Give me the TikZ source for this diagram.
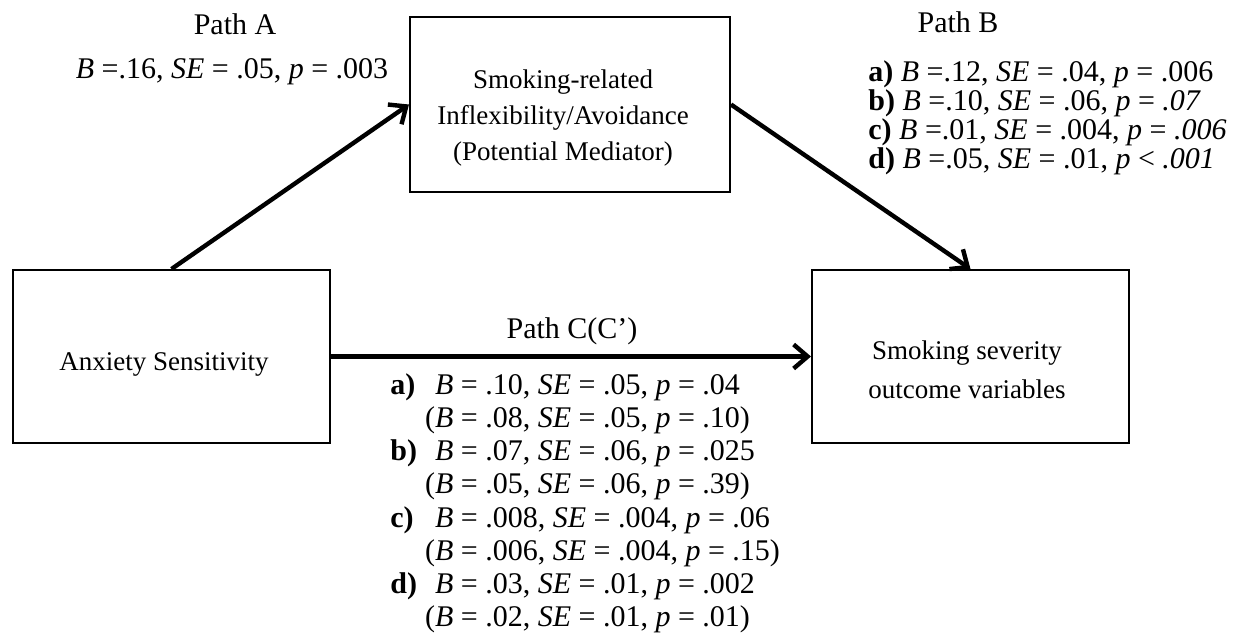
\documentclass[tikz,border=0pt]{standalone}
\usepackage{fontspec}
\setmainfont{Liberation Serif}
\usetikzlibrary{positioning,arrows.meta}
\tikzset{>={Straight Barb[length=7pt,width=12pt]}}
\tikzset{box/.style={draw,line width=1pt,inner sep=0pt}}
\newcommand*{\boxfont}[1]{\fontsize{13.5}{#1}\selectfont}
\newcommand*{\statfont}[1]{\fontsize{15}{#1}\selectfont}

\begin{document}
\begin{tikzpicture}[x=0.5pt,y=-0.5pt,font=\statfont{17}]
\useasboundingbox (0,0) rectangle (1238,643);
% Pixel grid, y downwards

% Coordinates of boxes
\coordinate (X) at (171.5,356.5);
\coordinate (M) at (570,104.5);
\coordinate (Y) at (970.5,356.5);

% Draw boxes
\node [box,minimum width=158.5pt,minimum height=86.5pt] (anx) at (X) {};
\node [box,minimum width=160pt,minimum height=87.5pt] (med) at (M) {};
\node [box,minimum width=158.5pt,minimum height=86.5pt] (out) at (Y) {};

% Box texts, set a bit low as in the original
\node [font=\boxfont{17}] (anxtext) at (164,364) {Anxiety Sensitivity};
\node [align=center,font=\boxfont{17.8}] (medtext) at (563,118)
  {Smoking-related\\Inflexibility/Avoidance\\(Potential Mediator)};
\node [align=center,font=\boxfont{19.5}] (outtext) at (967,370)
  {Smoking severity\\outcome variables};

% Paths
\draw [->,line width=2.2pt] (anx.north) -- (med.west);
\draw [->,line width=2.2pt] (med.east) -- (out.north);
\draw [->,line width=2.2pt] (anx.east) -- (out.west);

% Path A
\node [inner sep=0pt] (pathA) at (235,24) {Path A};
\node [inner sep=0pt] (statA) at (232,72) {\textit{B} =.16, \textit{SE} = .05, \textit{p} = .003};

% Path B
\node [inner sep=0pt] (pathB) at (958,22) {Path B};
\node [anchor=north west,inner sep=0pt,font=\statfont{13.85}] (statB) at (868,60) {%
  \begin{tabular}{@{}l@{}}
  \textbf{a)} \textit{B} =.12, \textit{SE} = .04, \textit{p} = .006\\
  \textbf{b)} \textit{B} =.10, \textit{SE} = .06, \textit{p} = \textit{.07}\\
  \textbf{c)} \textit{B} =.01, \textit{SE} = .004, \textit{p} = \textit{.006}\\
  \textbf{d)} \textit{B} =.05, \textit{SE} = .01, \textit{p} < \textit{.001}
  \end{tabular}};

% Path C(C')
\node [inner sep=0pt] (pathC) at (572,331) {Path C(C')};
\node [anchor=north west,inner sep=0pt,font=\statfont{16.9}] (statC) at (390,371) {%
  \renewcommand{\arraystretch}{0.98}%
  \begin{tabular}{@{}l@{\hspace{9pt}}l@{}}
  \textbf{a)} & \textit{B} = .10, \textit{SE} = .05, \textit{p} = .04\\
              & \llap{(}\textit{B} = .08, \textit{SE} = .05, \textit{p} = .10)\\
  \textbf{b)} & \textit{B} = .07, \textit{SE} = .06, \textit{p} = .025\\
              & \llap{(}\textit{B} = .05, \textit{SE} = .06, \textit{p} = .39)\\
  \textbf{c)} & \textit{B} = .008, \textit{SE} = .004, \textit{p} = .06\\
              & \llap{(}\textit{B} = .006, \textit{SE} = .004, \textit{p} = .15)\\
  \textbf{d)} & \textit{B} = .03, \textit{SE} = .01, \textit{p} = .002\\
              & \llap{(}\textit{B} = .02, \textit{SE} = .01, \textit{p} = .01)
  \end{tabular}};

\end{tikzpicture}
\end{document}
